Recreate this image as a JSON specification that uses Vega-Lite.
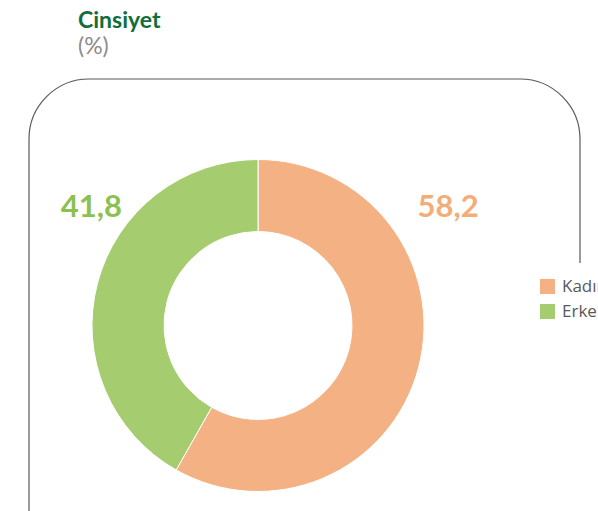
{
  "$schema": "https://vega.github.io/schema/vega-lite/v6.json",
  "width": 551,
  "height": 493,
  "autosize": {"type": "pad"},
  "padding": {"top": 10, "left": 28, "right": 0, "bottom": 0},
  "title": {
    "text": "Cinsiyet",
    "subtitle": "(%)",
    "anchor": "start",
    "frame": "group",
    "dx": 49,
    "offset": 19,
    "font": "Lato",
    "fontSize": 23,
    "fontWeight": "bold",
    "color": "#0f6e3b",
    "subtitleFont": "Lato",
    "subtitleFontSize": 23,
    "subtitleColor": "#8c8c8c",
    "subtitlePadding": 3
  },
  "data": {
    "values": [
      {"g": "Kadın", "value": 58.2, "label": "58,2"},
      {"g": "Erkek", "value": 41.8, "label": "41,8"}
    ]
  },
  "layer": [
    {
      "data": {"values": [{"frame": "çerçeve"}]},
      "mark": {"type": "rect", "fill": null, "stroke": "#595959", "strokeWidth": 1.2, "cornerRadius": 60},
      "encoding": {}
    },
    {
      "mark": {"type": "arc", "outerRadius": 166, "innerRadius": 94, "stroke": "white", "strokeWidth": 1, "xOffset": -46.5},
      "encoding": {
        "theta": {"field": "value", "type": "quantitative", "stack": true},
        "order": {"field": "value", "sort": "descending"},
        "color": {
          "field": "g",
          "type": "nominal",
          "scale": {"domain": ["Kadın", "Erkek"], "range": ["#f4b183", "#a5cc6f"]},
          "legend": {
            "orient": "none",
            "legendX": 495,
            "legendY": 184,
            "fillColor": "white",
            "padding": 15,
            "symbolType": "square",
            "symbolSize": 225,
            "symbolStrokeWidth": 0,
            "labelFont": "Open Sans",
            "labelFontSize": 17,
            "labelColor": "#595959",
            "labelOffset": 6,
            "rowPadding": 7,
            "title": " ",
            "titleOrient": "bottom",
            "titlePadding": 180,
            "titleFontSize": 2
          }
        }
      }
    },
    {
      "mark": {"type": "text", "font": "Lato", "fontSize": 31, "fontWeight": "bold", "align": "center", "baseline": "middle", "xOffset": -46.5},
      "encoding": {
        "theta": {"field": "value", "type": "quantitative", "stack": null, "scale": {"type": "linear", "zero": false, "domain": [41.8, 58.2], "range": [5.328, 1.016]}},
        "radius": {"field": "value", "type": "quantitative", "scale": {"type": "linear", "zero": false, "domain": [41.8, 58.2], "range": [204.1, 223.7]}},
        "text": {"field": "label"},
        "color": {
          "field": "g",
          "type": "nominal",
          "scale": {"domain": ["Kadın", "Erkek"], "range": ["#f3ad79", "#8cc152"]},
          "legend": null
        }
      }
    }
  ],
  "resolve": {"scale": {"theta": "independent", "radius": "independent", "color": "independent"}},
  "config": {
    "font": "Lato",
    "view": {"stroke": null}
  }
}
